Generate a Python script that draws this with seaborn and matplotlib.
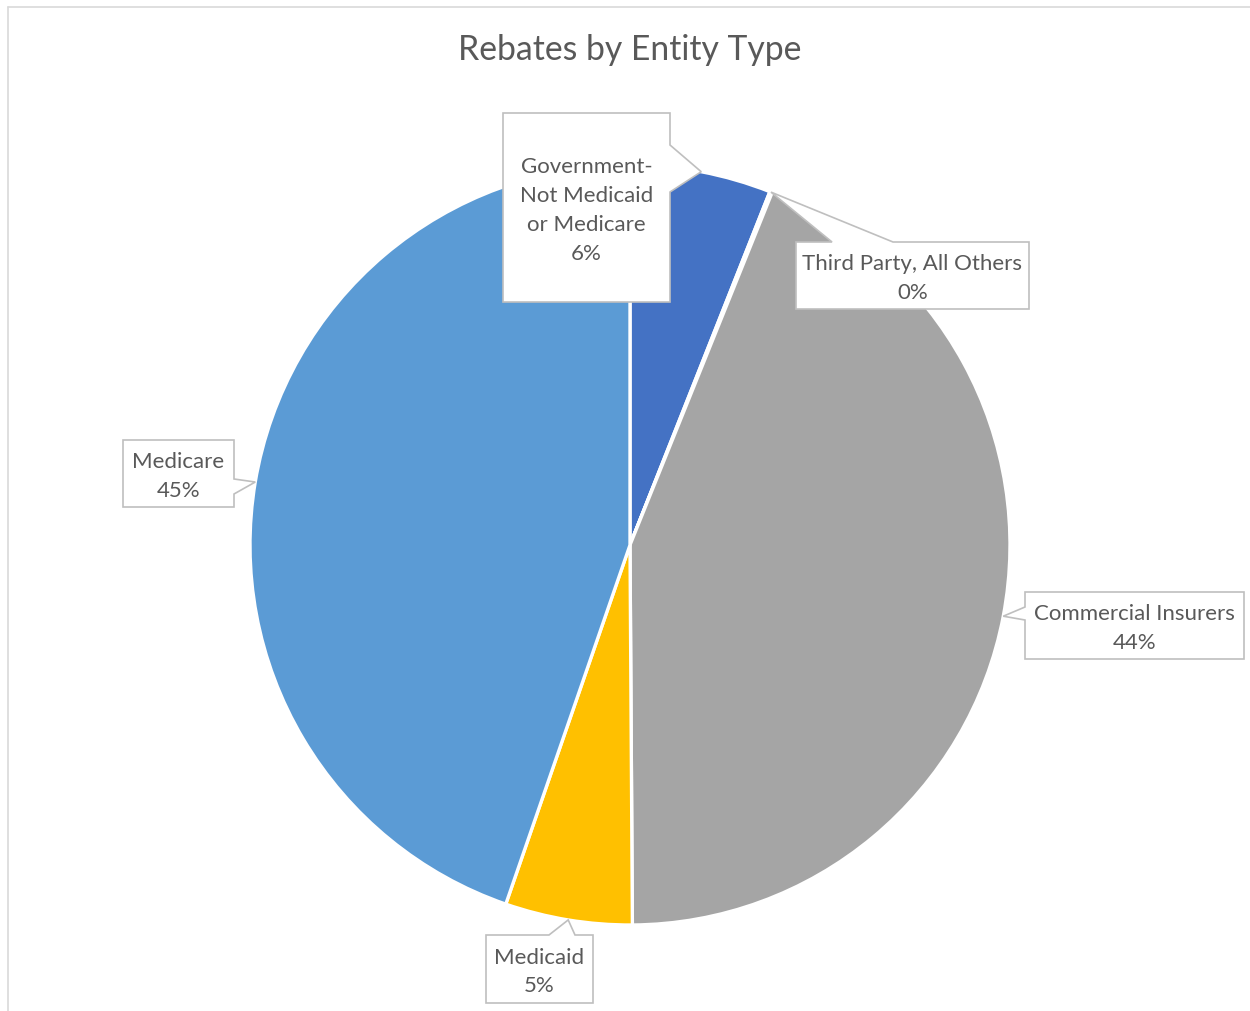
import numpy as np
import matplotlib
matplotlib.use("Agg")
import matplotlib.pyplot as plt
import seaborn as sns
from matplotlib.patches import Polygon
from matplotlib.lines import Line2D

# ---- data ----
categories = ["Government-Not Medicaid or Medicare", "Third Party, All Others",
              "Commercial Insurers", "Medicaid", "Medicare"]
label_names = ["Government-\nNot Medicaid\nor Medicare", "Third Party, All Others",
               "Commercial Insurers", "Medicaid", "Medicare"]
shares = [6.0, 0.1, 43.8, 5.4, 44.7]
slice_colors = ["#4472C4", "#ED7D31", "#A5A5A5", "#FFC000", "#5B9BD5"]
chart_title = "Rebates by Entity Type"

# ---- layout / style (pixel coordinates, top-down) ----
W, H = 1250, 1011
CX, CY, R = 630, 545, 380
TEXT_COLOR = "#595959"
BOX_EDGE = "#BFBFBF"
# rect (x0, y0, x1, y1), side of pointer, pointer base span
callouts = [
    ((503, 113, 670, 302), "right", (145, 192)),
    ((796, 242, 1029, 309), "top", (832, 893)),
    ((1025, 592, 1244, 659), "left", (607, 620)),
    ((486, 935, 593, 1003), "top", (549, 575)),
    ((123, 440, 234, 507), "right", (479, 494)),
]

sns.set_theme(style="white")
plt.rcParams['font.family'] = ['Lato', 'DejaVu Sans']

fig = plt.figure(figsize=(W / 100, H / 100), dpi=100)
ax = fig.add_axes([0, 0, 1, 1])
palette = sns.color_palette(slice_colors)
wedges, _ = ax.pie(shares, colors=palette, startangle=90, counterclock=False,
                   center=(CX, H - CY), radius=R,
                   wedgeprops=dict(edgecolor="white", linewidth=2.4))
ax.set_aspect('auto')
ax.set_xlim(0, W)
ax.set_ylim(0, H)
ax.axis('off')


def fy(y):
    return H - y


for wedge, name, share, (rect, side, base) in zip(wedges, label_names, shares, callouts):
    mid = np.deg2rad((wedge.theta1 + wedge.theta2) / 2.0)
    tip = (CX + R * np.cos(mid), fy(CY) + R * np.sin(mid))
    x0, y0, x1, y1 = rect
    b0, b1 = base
    pts = [(x0, fy(y0))]
    if side == "top":
        pts += [(b0, fy(y0)), tip, (b1, fy(y0))]
    pts += [(x1, fy(y0))]
    if side == "right":
        pts += [(x1, fy(b0)), tip, (x1, fy(b1))]
    pts += [(x1, fy(y1)), (x0, fy(y1))]
    if side == "left":
        pts += [(x0, fy(b1)), tip, (x0, fy(b0))]
    poly = Polygon(pts, closed=True, facecolor="white", edgecolor=BOX_EDGE,
                   linewidth=1.2, zorder=5, joinstyle="miter")
    ax.add_patch(poly)
    ax.text((x0 + x1) / 2.0, fy((y0 + y1) / 2.0 + 3), f"{name}\n{share:.0f}%",
            ha="center", va="center", fontsize=16, color=TEXT_COLOR,
            linespacing=1.55, zorder=6)

fig.text(630 / W, 1 - 50 / H, chart_title, ha="center", va="center",
         fontsize=24.3, color=TEXT_COLOR)

# chart area border (left and top visible)
fig.add_artist(Line2D([7.5 / W, 7.5 / W], [0, 1 - 6.5 / H], transform=fig.transFigure,
                      color="#D9D9D9", linewidth=1.2))
fig.add_artist(Line2D([7.5 / W, 1], [1 - 6.5 / H, 1 - 6.5 / H], transform=fig.transFigure,
                      color="#D9D9D9", linewidth=1.2))

fig.savefig("out.png", dpi=100, facecolor="white")
